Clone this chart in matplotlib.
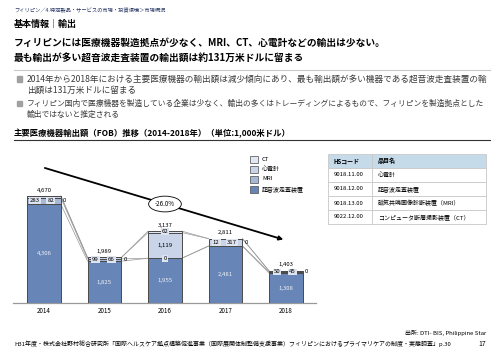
import numpy as np
import matplotlib
matplotlib.use('Agg')
import matplotlib.pyplot as plt
from matplotlib.patches import Rectangle

plt.rcParams['font.family'] = ['Noto Sans CJK JP', 'DejaVu Sans']

# data (1,000 USD)
years = ['2014', '2015', '2016', '2017', '2018']
series_names = ['超音波走査装置', 'MRI', '心電計', 'CT']
ultrasound = [4306, 1825, 1955, 2481, 1308]
mri = [283, 99, 0, 12, 50]
ecg = [82, 66, 1119, 317, 45]
ct = [0, 0, 62, 0, 0]
totals = [4670, 1989, 3137, 2811, 1403]

hs_codes = ['9018.11.00', '9018.12.00', '9018.13.00', '9022.12.00']
item_names = ['心電計', '超音波走査装置', '磁気共鳴画像診断装置（MRI）', 'コンピュータ断層撮影装置（CT）']

colors = ['#6785b6', '#a7b7d6', '#c9d4e8', '#e2e8f2']
W, H = 500, 353


def fx(x):
    return x / W


def fy(y):
    return 1 - y / H


fig = plt.figure(figsize=(5.0, 3.53), dpi=100)

# ---- header texts
fig.text(fx(14), fy(11), 'フィリピン／4.特定製品・サービスの市場・投資環境＞市場概況', fontsize=3.8,
         color='#2b3a67', va='center')
fig.text(fx(14), fy(24), '基本情報｜輸出', fontsize=6.5, weight='bold', va='center')
fig.text(fx(14), fy(43), 'フィリピンには医療機器製造拠点が少なく、MRI、CT、心電計などの輸出は少ない。',
         fontsize=7.0, weight='bold', va='center')
fig.text(fx(14), fy(58), '最も輸出が多い超音波走査装置の輸出額は約131万米ドルに留まる',
         fontsize=7.0, weight='bold', va='center')
fig.add_artist(plt.Line2D([fx(14), fx(490)], [fy(70), fy(70)], color='#c8c8c8', lw=0.8))

# bullets: (text, y, size) - second bullet has more kana, so a bit smaller to fit the width
bullets = [
    ('2014年から2018年における主要医療機器の輸出額は減少傾向にあり、最も輸出額が多い機器である超音波走査装置の輸', 79, 6.2),
    ('出額は131万米ドルに留まる', 90, 6.2),
    ('フィリピン国内で医療機器を製造している企業は少なく、輸出の多くはトレーディングによるもので、フィリピンを製造拠点とした', 104, 5.6),
    ('輸出ではないと推定される', 115, 5.6),
]
for i, (txt, y, fs) in enumerate(bullets):
    if i % 2 == 0:
        fig.add_artist(Rectangle((fx(17), fy(y) - 2.5 / H), 5 / W, 5 / H, color='#a0a0a0',
                                 transform=fig.transFigure))
    fig.text(fx(27), fy(y), txt, fontsize=fs, color='#3a3a3a', va='center')

fig.text(fx(14), fy(133), '主要医療機器輸出額（FOB）推移（2014-2018年）（単位:1,000米ドル）', fontsize=6.0,
         weight='bold', va='center')
fig.add_artist(plt.Line2D([fx(14), fx(490)], [fy(140), fy(140)], color='#333333', lw=0.8))

# ---- chart
ax = fig.add_axes([fx(13), 50 / H, 303 / W, 153 / H])
ax.set_xlim(-0.512, 4.496)
ax.set_ylim(0, 6680)
x = np.arange(len(years))
bw = 0.56
stack = np.array([ultrasound, mri, ecg, ct])
cum = np.vstack([np.zeros(len(years)), np.cumsum(stack, axis=0)])

for k in range(4):
    ax.bar(x, stack[k], bw, bottom=cum[k], color=colors[k], edgecolor='#4a4a4a', lw=0.7,
           label=series_names[k], zorder=3)

# connectors between bars
for i in range(len(years) - 1):
    for k in range(1, 5):
        ax.plot([x[i] + bw / 2, x[i + 1] - bw / 2], [cum[k][i], cum[k][i + 1]],
                color='#999999', lw=0.5, zorder=2)

px_per_unit = 153 / 6680
lab = dict(fontsize=4.3, ha='center', va='center', zorder=5)
box = dict(boxstyle='square,pad=0.15', fc='#dfe5f0', ec='none')
for i in range(len(years)):
    ax.text(x[i], cum[0][i] + ultrasound[i] / 2, f'{ultrasound[i]:,}', color='#eef1f7', **lab)
    thin = [stack[k][i] * px_per_unit < 12 for k in (1, 2, 3)]
    if all(thin):
        ymid = (cum[1][i] + cum[4][i]) / 2
        ax.text(x[i] - bw * 0.27, ymid, f'{mri[i]:,}', bbox=box, **lab)
        ax.text(x[i] + bw * 0.2, ymid, f'{ecg[i]:,}', bbox=box, **lab)
        ax.text(x[i] + bw / 2 + 0.06, ymid, f'{ct[i]:,}', **lab)
    else:
        for k in (1, 2, 3):
            ymid = (cum[k][i] + cum[k + 1][i]) / 2
            ax.text(x[i], ymid, f'{stack[k][i]:,}', bbox=box if thin[k - 1] else None, **lab)
    ax.text(x[i], totals[i] + 260, f'{totals[i]:,}', **lab)

# CAGR arrow
cagr = (totals[-1] / totals[0]) ** (1 / (len(years) - 1)) - 1
y0, y1 = totals[0] * 1.27, totals[-1] * 1.95
ax.annotate('', xy=(x[-1], y1), xytext=(x[0] - 0.03, y0),
            arrowprops=dict(arrowstyle='-|>', color='black', lw=1.3, mutation_scale=6), zorder=6)
xm = 2.0
ym = y0 + (y1 - y0) * (xm - x[0] + 0.03) / (x[-1] - x[0] + 0.03)
ax.text(xm, ym, f'{cagr * 100:.1f}%', fontsize=4.5, ha='center', va='center', zorder=7,
        bbox=dict(boxstyle='ellipse,pad=0.25', fc='white', ec='black', lw=0.6))

ax.set_xticks(x)
ax.set_xticklabels(years, fontsize=4.5)
ax.tick_params(length=0, pad=3)
ax.set_yticks([])
for s in ['top', 'right', 'left']:
    ax.spines[s].set_visible(False)
ax.spines['bottom'].set_color('#999999')
ax.spines['bottom'].set_linewidth(0.9)

# legend (top to bottom: CT, 心電計, MRI, 超音波)
for j, k in enumerate([3, 2, 1, 0]):
    yc = 159 + j * 10
    fig.add_artist(Rectangle((fx(250), fy(yc + 3.5)), 8 / W, 7 / H, fc=colors[k], ec='#4a4a4a',
                             lw=0.5, transform=fig.transFigure))
    fig.text(fx(262), fy(yc), series_names[k], fontsize=4.3, va='center')

# table
tx0, tx1, tdiv = 328, 486, 372
ty0, rh = 154, 14
rows = [('HSコード', '品目名')] + list(zip(hs_codes, item_names))
for r, (c1, c2) in enumerate(rows):
    yt = ty0 + r * rh
    fc = '#c6dbea' if r == 0 else 'white'
    fig.add_artist(Rectangle((fx(tx0), fy(yt + rh)), (tx1 - tx0) / W, rh / H, fc=fc, ec='#c8c8c8',
                             lw=0.6, transform=fig.transFigure))
    wt = 'bold' if r == 0 else 'normal'
    fig.text(fx(tx0 + 6), fy(yt + rh / 2), c1, fontsize=4.3, va='center', weight=wt)
    fig.text(fx(tdiv + 6), fy(yt + rh / 2), c2, fontsize=4.3, va='center', weight=wt)
fig.add_artist(plt.Line2D([fx(tdiv), fx(tdiv)], [fy(ty0), fy(ty0 + 5 * rh)], color='#c8c8c8', lw=0.6))

# footer
fig.text(fx(486), fy(333), '出所: DTI- BIS, Philippine Star', fontsize=4.3, ha='right', va='center')
fig.text(fx(14), fy(344), 'H31年度・株式会社野村総合研究所「国際ヘルスケア拠点構築促進事業（国際展開体制整備支援事業）'
         'フィリピンにおけるプライマリケアの制度・実態調査」p.30', fontsize=4.3, va='center')
fig.text(fx(486), fy(344), '17', fontsize=5, ha='right', va='center')

fig.savefig('out.png', dpi=100)
